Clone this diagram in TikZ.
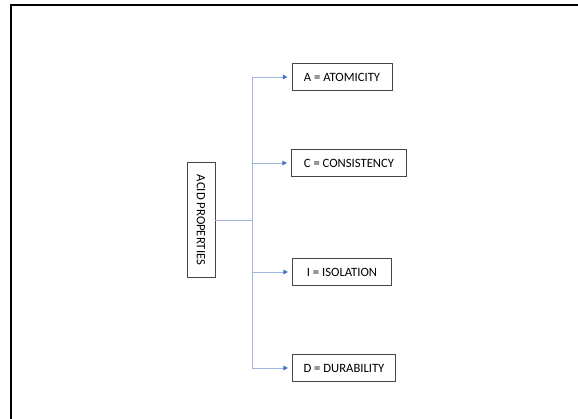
\documentclass[tikz,border=0pt]{standalone}
\usepackage{fontspec}
\setmainfont{Carlito}
\usepackage{tikz}
\usetikzlibrary{arrows.meta,positioning,calc}

\definecolor{linkblue}{RGB}{160,182,222}
\definecolor{tipblue}{RGB}{68,114,196}

\begin{document}
\begin{tikzpicture}[
  x=0.025cm, y=-0.025cm,
  font=\fontsize{9}{11}\selectfont,
  propbox/.style={draw=gray!55!black, fill=white, line width=0.5pt, minimum height=0.68cm, inner sep=2pt, align=center},
  rootbox/.style={draw=gray!55!black, fill=white, line width=0.5pt, rotate=-90, minimum width=2.875cm, minimum height=0.7cm, inner sep=2pt},
  link/.style={draw=linkblue, line width=0.6pt},
  linkarrow/.style={link, -{Triangle[length=3.2pt, width=3.2pt, fill=tipblue, color=tipblue]}, shorten >=3pt}
]
\useasboundingbox (0,0) rectangle (578,419);

% frame
\draw[line width=1.4pt] (11,419) -- (11,5) -- (578,5);

% root (rotated, so its north side faces right)
\node[rootbox] (acid) at (201,220) {ACID PROPERTIES};

% properties
\node[propbox, minimum width=2.5cm]   (atom) at (342,77)  {A = ATOMICITY};
\node[propbox, minimum width=2.875cm] (cons) at (349,163) {C = CONSISTENCY};
\node[propbox, minimum width=2.475cm] (isol) at (342,272) {I = ISOLATION};
\node[propbox, minimum width=2.575cm] (dura) at (344,368) {D = DURABILITY};

% trunk and branches
\coordinate (trunk) at (252,220);
\draw[link] (acid.north) -- (acid.north -| trunk);
\draw[link] (atom.west -| trunk) -- (dura.west -| trunk);
\foreach \n in {atom,cons,isol,dura} {
  \draw[linkarrow] (\n.west -| trunk) -- (\n.west);
}
\end{tikzpicture}
\end{document}
